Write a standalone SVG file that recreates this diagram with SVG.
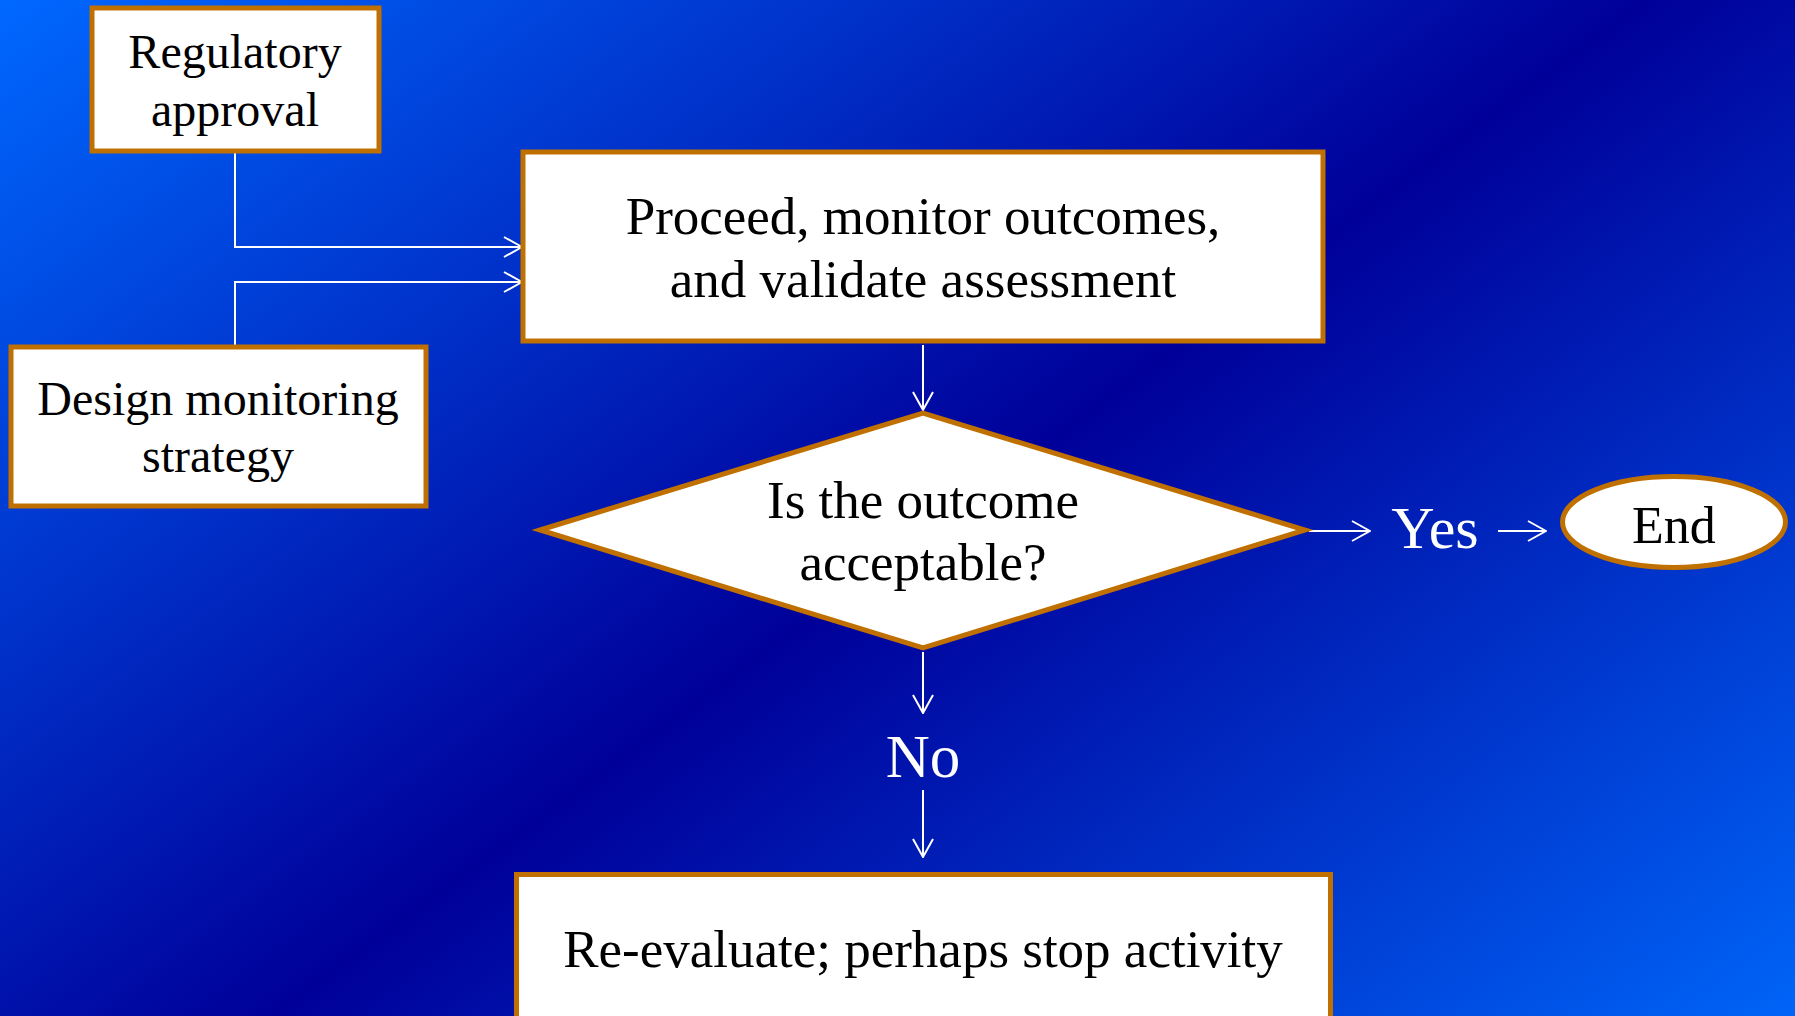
<svg xmlns="http://www.w3.org/2000/svg" width="1795" height="1016" viewBox="0 0 1795 1016">
<defs>
<linearGradient id="bg" gradientUnits="userSpaceOnUse" x1="387" y1="-285" x2="1505" y2="1228">
<stop offset="0" stop-color="#0068ff"/>
<stop offset="0.52" stop-color="#000099"/>
<stop offset="1" stop-color="#0064f8"/>
</linearGradient>
<marker id="arr" markerUnits="userSpaceOnUse" viewBox="0 0 20 22" refX="19" refY="11" markerWidth="20" markerHeight="22" orient="auto">
<path d="M1,1 L19,11 L1,21" fill="none" stroke="#ffffff" stroke-width="2"/>
</marker>
<style>
.box{fill:#ffffff;stroke:#c07000;stroke-width:5}
.t{font-family:"Liberation Serif","Times New Roman",serif;fill:#000000;text-anchor:middle}
.w{font-family:"Liberation Serif","Times New Roman",serif;fill:#ffffff;text-anchor:middle}
.c{fill:none;stroke:#ffffff;stroke-width:2}
</style>
</defs>
<rect x="0" y="0" width="1795" height="1016" fill="url(#bg)"/>
<g id="connectors">
<path class="c" d="M235,152 V247 H522" marker-end="url(#arr)"/>
<path class="c" d="M235,346 V282 H522" marker-end="url(#arr)"/>
<path class="c" d="M923,345 V410" marker-end="url(#arr)"/>
<path class="c" d="M1309,531 H1370" marker-end="url(#arr)"/>
<path class="c" d="M1498,531 H1546" marker-end="url(#arr)"/>
<path class="c" d="M923,652 V713" marker-end="url(#arr)"/>
<path class="c" d="M923,790 V857" marker-end="url(#arr)"/>
<text class="w" x="1435" y="548" font-size="60">Yes</text>
<text class="w" x="923" y="777" font-size="61">No</text>
</g>
<g id="regulatory">
<rect class="box" x="92" y="8" width="287" height="143"/>
<text class="t" font-size="48" x="235" y="68">Regulatory</text>
<text class="t" font-size="48" x="235" y="126">approval</text>
</g>
<g id="design">
<rect class="box" x="11" y="347" width="415" height="159"/>
<text class="t" font-size="48" x="218" y="415">Design monitoring</text>
<text class="t" font-size="48" x="218" y="472">strategy</text>
</g>
<g id="proceed">
<rect class="box" x="523" y="152" width="800" height="189"/>
<text class="t" font-size="53" x="923" y="234">Proceed, monitor outcomes,</text>
<text class="t" font-size="53" x="923" y="297">and validate assessment</text>
</g>
<g id="decision">
<polygon class="box" points="540,530 923,413 1305,530 923,648"/>
<text class="t" font-size="53" x="923" y="518">Is the outcome</text>
<text class="t" font-size="53" x="923" y="580">acceptable?</text>
</g>
<g id="end">
<ellipse class="box" cx="1674" cy="522" rx="111.5" ry="45.5"/>
<text class="t" font-size="52" x="1674" y="543">End</text>
</g>
<g id="reevaluate">
<rect class="box" x="516.5" y="874.5" width="814" height="170"/>
<text class="t" font-size="53" x="923" y="967">Re-evaluate; perhaps stop activity</text>
</g>
</svg>
